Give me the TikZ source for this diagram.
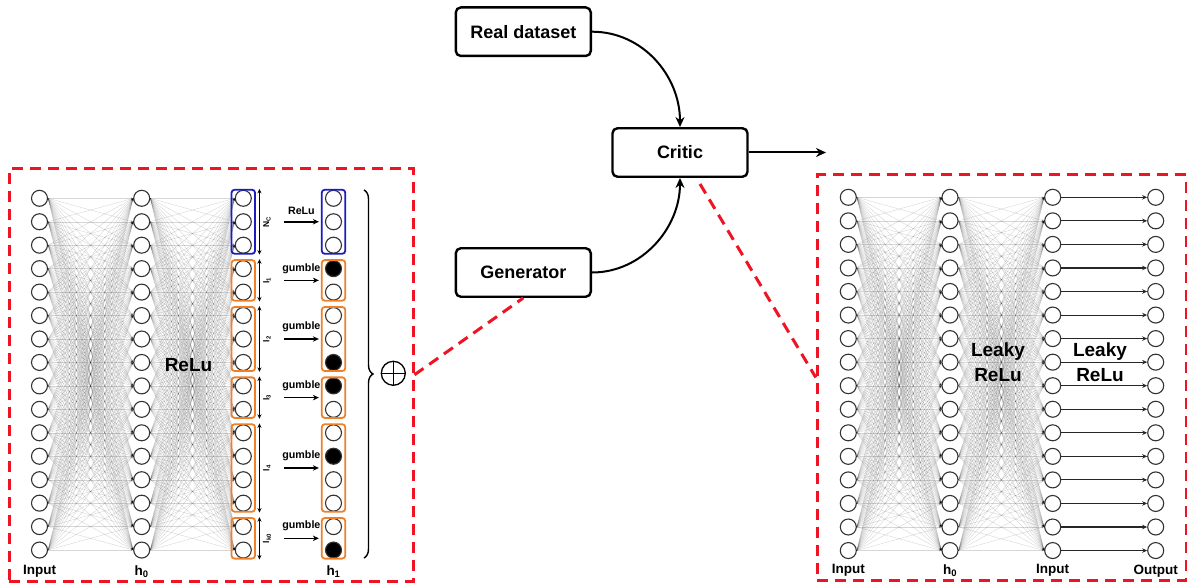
\documentclass[tikz,border=0pt]{standalone}
\usepackage{fontspec}
\setmainfont{Liberation Sans}
\usetikzlibrary{arrows.meta,calc,fit,decorations.pathreplacing}
\definecolor{dashred}{RGB}{238,20,36}
\definecolor{grpblue}{RGB}{28,28,190}
\definecolor{grporange}{RGB}{240,128,40}
\tikzset{
  neuron/.style={circle, draw=black!80, line width=1.1pt, minimum size=16pt, inner sep=0pt},
  fired/.style={neuron, fill=black},
  link/.style={draw=black, line width=0.4pt, opacity=0.16, -{Stealth[length=2.5pt,width=2.2pt]}},
  block/.style={draw, rounded corners=5pt, line width=2.4pt, minimum width=135pt, minimum height=48.5pt, inner sep=0pt, font=\fontsize{18}{20}\selectfont\bfseries},
  flow/.style={line width=2pt, -{Stealth[length=10pt,width=9pt]}},
  panel/.style={draw=dashred, line width=3pt, dash pattern=on 11pt off 7pt},
  grp/.style={draw, rounded corners=3pt, line width=1.8pt, inner xsep=3.2pt, inner ysep=0pt},
  span/.style={line width=1pt, {Stealth[length=4.5pt,width=4pt]}-{Stealth[length=4.5pt,width=4pt]}},
  pass/.style={line width=1.5pt, -{Stealth[length=6pt,width=5.5pt]}},
  axislbl/.style={font=\fontsize{13.5}{15}\selectfont\bfseries},
  actlbl/.style={font=\fontsize{19}{25}\selectfont\bfseries, align=center},
  minilbl/.style={font=\fontsize{10.7}{12}\selectfont\bfseries},
  grplbl/.style={font=\fontsize{8.5}{9}\selectfont\bfseries, rotate=90},
  onetoone/.style={line width=1.1pt, draw=black!85, -{Stealth[length=5pt,width=4.5pt]}},
}
\begin{document}
\begin{tikzpicture}[x=1pt,y=-1pt]
\useasboundingbox (0,0) rectangle (1187,583);

% ---------------- generator network ----------------
\node[panel, minimum width=403.7pt, minimum height=412.5pt, inner sep=0pt] (genpanel) at (211.15,374.75) {};

\foreach \i in {0,...,15}{
  \pgfmathsetmacro\yy{198.3+23.45*\i}
  \pgfmathtruncatemacro\on{(\i==3)||(\i==7)||(\i==8)||(\i==11)||(\i==15)}
  \node[neuron] (a\i) at (39.5,\yy) {};
  \node[neuron] (b\i) at (141.7,\yy) {};
  \node[neuron] (c\i) at (243.3,\yy) {};
  \ifnum\on=1
    \node[fired] (d\i) at (333.5,\yy) {};
  \else
    \node[neuron] (d\i) at (333.5,\yy) {};
  \fi
}
\foreach \i in {0,...,15}{\foreach \j in {0,...,15}{
  \draw[link] (a\i.east) -- (b\j.west);
  \draw[link] (b\i.east) -- (c\j.west);
}}

% output blocks: continuous part and one-hot parts
\foreach \f/\l/\col/\nm/\op in {0/2/grpblue/{N\textsubscript{C}}/ReLu,
    3/4/grporange/{l\textsubscript{1}}/gumble,
    5/7/grporange/{l\textsubscript{2}}/gumble,
    8/9/grporange/{l\textsubscript{3}}/gumble,
    10/13/grporange/{l\textsubscript{4}}/gumble,
    14/15/grporange/{l\textsubscript{k0}}/gumble}{
  \node[grp, draw=\col, fit=(c\f)(c\l)] (g\f) {};
  \node[grp, draw=\col, fit=(d\f)(d\l)] (o\f) {};
  \draw[span] ($(g\f.north east)+(3.5,0)$) -- ($(g\f.south east)+(3.5,0)$);
  \node[grplbl] (n\f) at ($(g\f.east)+(11,0)$) {\nm};
  \draw[pass] ($(g\f.east)+(28,0)$) -- ($(o\f.west)+(-2,0)$)
    node[midway, above=3pt, minilbl] (t\f) {\op};
}

\draw[decorate, decoration={brace, amplitude=9pt}, line width=1.4pt] (364,190) -- (364,558);
\node[circle, draw, line width=1.3pt, minimum size=24pt, inner sep=0pt,
  path picture={\draw[line width=1.3pt]
    (path picture bounding box.north) -- (path picture bounding box.south)
    (path picture bounding box.west) -- (path picture bounding box.east);}] (sum) at (393.3,373.3) {};

\node[axislbl] (inA) at (39.5,571.7) {Input};
\node[axislbl] (inB) at (141.7,571.7) {h\textsubscript{0}};
\node[axislbl] (inD) at (333.5,571.7) {h\textsubscript{1}};
\node[actlbl] (relu) at (188.5,365) {ReLu};

% ---------------- adversarial loop ----------------
\node[block] (real) at (523.3,31.7) {Real dataset};
\node[block] (critic) at (680,152.5) {Critic};
\node[block] (gen) at (523.3,272.5) {Generator};
\coordinate (score) at (826,152.5);
\draw[flow] (real.east) .. controls +(51,0) and +(0,-51) .. (critic.north);
\draw[flow] (gen.east) .. controls +(50,0) and +(0,50) .. (critic.south);
\draw[flow] (critic.east) -- (score);

% ---------------- critic network ----------------
\node[panel, minimum width=368.7pt, minimum height=405pt, inner sep=0pt] (critpanel) at (1001.65,377.5) {};

\foreach \i in {0,...,15}{
  \pgfmathsetmacro\yy{197.3+23.55*\i}
  \node[neuron] (p\i) at (848.3,\yy) {};
  \node[neuron] (q\i) at (950,\yy) {};
  \node[neuron] (r\i) at (1052.7,\yy) {};
  \node[neuron] (s\i) at (1155.7,\yy) {};
  \draw[onetoone] (r\i.east) -- (s\i.west);
}
\foreach \i in {0,...,15}{\foreach \j in {0,...,15}{
  \draw[link] (p\i.east) -- (q\j.west);
  \draw[link] (q\i.east) -- (r\j.west);
}}

\node[actlbl] (lrelu1) at (998,362.5) {Leaky\\ReLu};
\node[actlbl] (lrelu2) at (1100,362.5) {Leaky\\ReLu};
\node[axislbl] (inP) at (848.3,570.7) {Input};
\node[axislbl] (inQ) at (950,570.7) {h\textsubscript{0}};
\node[axislbl] (inR) at (1052.7,570.7) {Input};
\node[axislbl] (inS) at (1155.7,570.7) {Output};

% zoom connectors
\draw[panel] (genpanel.east) -- (gen.south);
\draw[panel] ($(critic.south)+(20,6)$) -- (critpanel.west);
\end{tikzpicture}
\end{document}
